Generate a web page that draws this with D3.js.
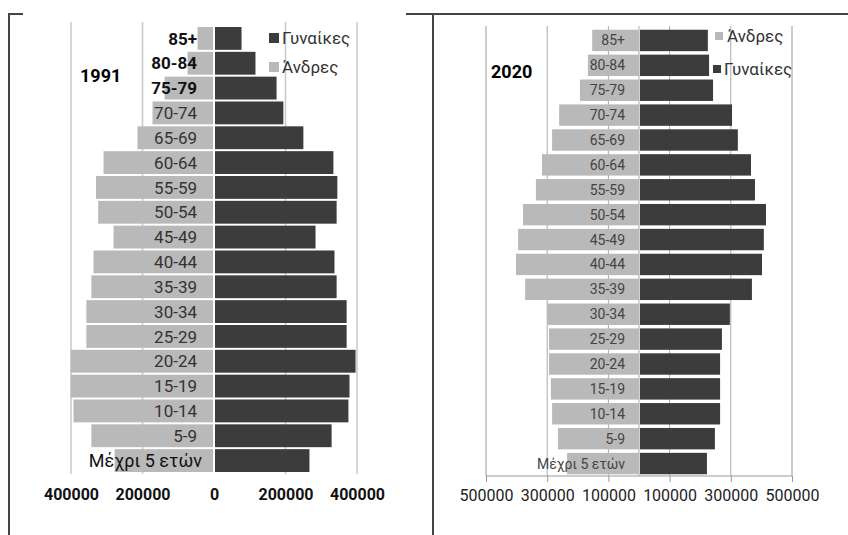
<!DOCTYPE html>
<html>
<head>
<meta charset="utf-8">
<script src="https://cdn.jsdelivr.net/npm/d3@7"></script>
<style>
  html, body { margin: 0; padding: 0; background: #fff; }
  svg { display: block; }
  text { font-family: Roboto, "Liberation Sans", sans-serif; }
</style>
</head>
<body>
<svg id="chart" width="848" height="535"></svg>
<script>
const ageGroups = ["85+", "80-84", "75-79", "70-74", "65-69", "60-64", "55-59", "50-54", "45-49",
  "40-44", "35-39", "30-34", "25-29", "20-24", "15-19", "10-14", "5-9", "Μέχρι 5 ετών"];

const men1991   = [46000, 74000, 138000, 172000, 214000, 309000, 330000, 324000, 281000,
  337000, 343000, 357000, 357000, 401000, 401000, 393000, 343000, 278000];
const women1991 = [77000, 116000, 175000, 194000, 250000, 334000, 345000, 343000, 284000,
  337000, 343000, 371000, 371000, 396000, 379000, 376000, 329000, 267000];

const men2020   = [153000, 167000, 193000, 261000, 284000, 317000, 337000, 379000, 395000,
  402000, 372000, 300000, 294000, 294000, 288000, 284000, 265000, 235000];
const women2020 = [225000, 229000, 242000, 304000, 323000, 366000, 379000, 415000, 408000,
  402000, 369000, 297000, 271000, 265000, 265000, 265000, 248000, 222000];

const ticks1991 = [-400000, -200000, 0, 200000, 400000];
const ticks2020 = [-500000, -300000, -100000, 100000, 300000, 500000];

const legend1991 = ["Γυναίκες", "Άνδρες"];
const legend2020 = ["Άνδρες", "Γυναίκες"];

const DARK = "#3c3c3c", LIGHT = "#b9b9b9";
const svg = d3.select("#chart");

// panel frames
const frame = svg.append("g").attr("stroke", "#444").attr("stroke-width", 2).attr("fill", "none");
frame.append("line").attr("x1", 9).attr("y1", 13).attr("x2", 9).attr("y2", 535);
frame.append("line").attr("x1", 433).attr("y1", 13).attr("x2", 433).attr("y2", 535);
frame.append("line").attr("x1", 8).attr("y1", 14).attr("x2", 23).attr("y2", 14);
frame.append("line").attr("x1", 406).attr("y1", 14).attr("x2", 848).attr("y2", 14);

const fmt = v => String(Math.abs(v));

// ---------- 1991 ----------
(function () {
  const g = svg.append("g");
  const x = d3.scaleLinear().domain([-400000, 400000]).range([71, 357]);
  const y = d3.scaleBand().domain(ageGroups).range([26, 473]).paddingInner(0.08).paddingOuter(0.04);
  const cx = x(0);

  g.selectAll("line.grid").data(ticks1991.filter(t => t !== 0)).join("line")
    .attr("x1", d => x(d)).attr("x2", d => x(d)).attr("y1", 22).attr("y2", 474)
    .attr("stroke", "#c8c8c8").attr("stroke-width", 1.5);

  g.selectAll("rect.men").data(ageGroups).join("rect")
    .attr("x", (d, i) => x(-men1991[i])).attr("y", d => y(d))
    .attr("width", (d, i) => cx - 1 - x(-men1991[i])).attr("height", y.bandwidth())
    .attr("fill", LIGHT);
  g.selectAll("rect.women").data(ageGroups).join("rect")
    .attr("x", cx + 1).attr("y", d => y(d))
    .attr("width", (d, i) => x(women1991[i]) - cx - 1).attr("height", y.bandwidth())
    .attr("fill", DARK);

  g.selectAll("text.cat").data(ageGroups).join("text")
    .attr("x", (d, i) => i === ageGroups.length - 1 ? 202 : 197)
    .attr("y", d => y(d) + y.bandwidth() / 2)
    .attr("dy", "0.36em").attr("text-anchor", "end")
    .attr("font-size", (d, i) => i === ageGroups.length - 1 ? 18 : 17)
    .attr("font-weight", (d, i) => i < 3 ? "bold" : "normal")
    .attr("fill", (d, i) => (i < 3 || i === ageGroups.length - 1) ? "#111" : "#333")
    .text(d => d);

  const ax = d3.axisBottom(x).tickValues(ticks1991).tickFormat(fmt).tickSize(0).tickPadding(0);
  const axg = g.append("g").attr("transform", "translate(0,489)").call(ax);
  axg.select(".domain").remove();
  axg.selectAll("text").attr("font-size", 16).attr("font-weight", "bold").attr("fill", "#111")
    .attr("font-family", "Roboto, sans-serif");

  g.append("text").attr("x", 80).attr("y", 76).attr("dy", "0.36em")
    .attr("font-size", 18).attr("font-weight", "bold").attr("fill", "#000").text("1991");

  const lg = g.append("g");
  const lcol = [DARK, LIGHT];
  legend1991.forEach((t, i) => {
    const ly = 38 + i * 29;
    lg.append("rect").attr("x", 269).attr("y", ly - 5).attr("width", 10).attr("height", 10).attr("fill", lcol[i]);
    lg.append("text").attr("x", 282).attr("y", ly).attr("dy", "0.36em")
      .attr("font-size", 17).attr("fill", "#333").text(t);
  });
})();

// ---------- 2020 ----------
(function () {
  const g = svg.append("g");
  const x = d3.scaleLinear().domain([-500000, 500000]).range([486, 792]);
  const y = d3.scaleBand().domain(ageGroups).range([28, 476]).paddingInner(0.14).paddingOuter(0.07);
  const cx = x(0);

  g.selectAll("line.grid").data(ticks2020.concat([0])).join("line")
    .attr("x1", d => x(d)).attr("x2", d => x(d)).attr("y1", 26).attr("y2", 476)
    .attr("stroke", d => (d === -500000 || d === 500000) ? "#9a9a9a" : "#aaaaaa").attr("stroke-width", 1);

  g.selectAll("rect.men").data(ageGroups).join("rect")
    .attr("x", (d, i) => x(-men2020[i])).attr("y", d => y(d))
    .attr("width", (d, i) => cx - x(-men2020[i])).attr("height", y.bandwidth())
    .attr("fill", LIGHT);
  g.selectAll("rect.women").data(ageGroups).join("rect")
    .attr("x", cx + 1).attr("y", d => y(d))
    .attr("width", (d, i) => x(women2020[i]) - cx - 1).attr("height", y.bandwidth())
    .attr("fill", DARK);

  g.selectAll("text.cat").data(ageGroups).join("text")
    .attr("x", 625).attr("y", d => y(d) + y.bandwidth() / 2)
    .attr("dy", "0.36em").attr("text-anchor", "end")
    .attr("font-size", 14).attr("fill", "#444")
    .text(d => d);

  const ax = d3.axisBottom(x).tickValues(ticks2020).tickFormat(fmt).tickSize(6).tickPadding(8);
  const axg = g.append("g").attr("transform", "translate(0,476)").call(ax);
  axg.select(".domain").attr("stroke", "#999").attr("d", `M${x(-500000)},0H${x(500000)}`);
  axg.selectAll(".tick line").attr("stroke", "#999");
  axg.selectAll("text").attr("font-size", 16).attr("fill", "#222")
    .attr("font-family", "Roboto, sans-serif");

  g.append("text").attr("x", 491).attr("y", 72).attr("dy", "0.36em")
    .attr("font-size", 18).attr("font-weight", "bold").attr("fill", "#000").text("2020");

  const lg = g.append("g");
  const lcol = [LIGHT, DARK];
  legend2020.forEach((t, i) => {
    const ly = 36 + i * 33;
    lg.append("rect").attr("x", 713 + (i === 0 ? 2 : 0)).attr("y", ly - 4).attr("width", 8).attr("height", 8).attr("fill", lcol[i]);
    lg.append("text").attr("x", i === 0 ? 727 : 724).attr("y", ly).attr("dy", "0.36em")
      .attr("font-size", 17).attr("fill", "#333").text(t);
  });
})();
</script>
</body>
</html>
